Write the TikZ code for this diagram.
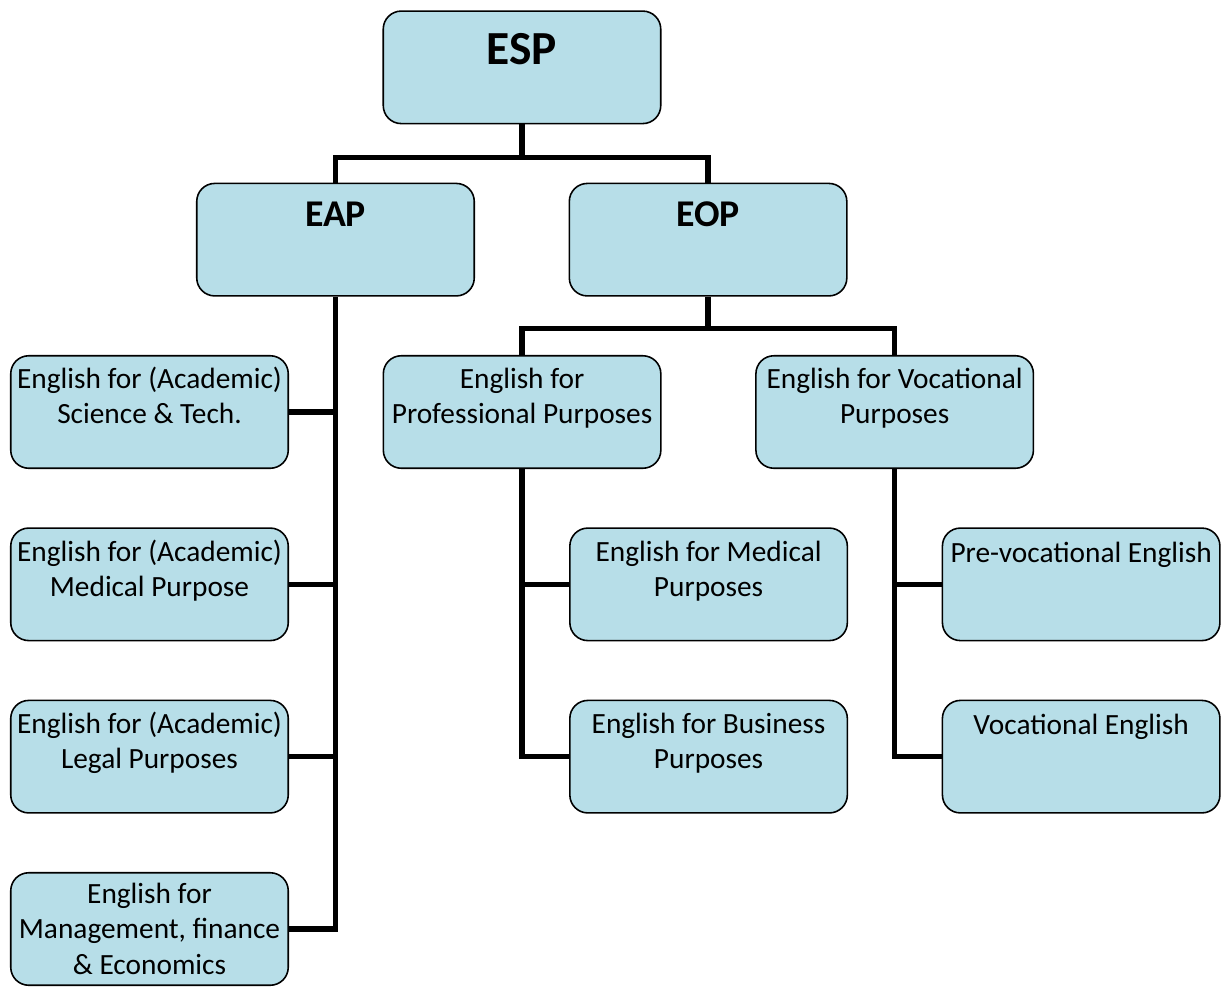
\documentclass[tikz,border=0pt]{standalone}
\usepackage{fontspec}
\setmainfont{Carlito}
\usetikzlibrary{positioning,calc}
\definecolor{boxblue}{RGB}{183,222,232}
\newcommand{\boxtext}[2]{\parbox[c][2.25cm][t]{5.5cm}{\centering\rule{0pt}{#1}#2}}
\tikzset{
    %Define style for boxes
    esbox/.style={
           rectangle,
           rounded corners=0.36cm,
           draw=black, line width=0.9pt,
           fill=boxblue,
           minimum width=5.55cm,
           minimum height=2.25cm,
           inner sep=0pt,
           font=\fontsize{16.7}{20}\selectfont,
           },
    headbox/.style={
           esbox,
           font=\bfseries\fontsize{21.5}{25}\selectfont,
           },
    topbox/.style={
           esbox,
           font=\bfseries\fontsize{27}{31}\selectfont,
           },
    % Define connector style
    link/.style={
           draw=black,
           line width=3pt,},
}
\begin{document}
\begin{tikzpicture}[node distance=1.165cm and 1.87cm]
\useasboundingbox (0,0) rectangle (24.62,-19.74);
 %nodes
\node[esbox](sci) at (2.99,-8.24){\boxtext{0.66cm}{English for (Academic)\\Science \& Tech.}};
\node[esbox, below=of sci](med){\boxtext{0.66cm}{English for (Academic)\\Medical Purpose}};
\node[esbox, below=of med](legal){\boxtext{0.66cm}{English for (Academic)\\Legal Purposes}};
\node[esbox, below=of legal](mgmt){\boxtext{0.62cm}{English for\\Management, finance\\\& Economics}};
\node[headbox, above=of sci, xshift=3.72cm](eap){\boxtext{0.86cm}{EAP}};
\node[headbox, right=of eap](eop){\boxtext{0.86cm}{EOP}};
\node[topbox, above=of eap, xshift=3.73cm](esp){\boxtext{1.06cm}{ESP}};
\node[esbox, right=of sci](prof){\boxtext{0.66cm}{English for\\Professional Purposes}};
\node[esbox, right=of prof](voc){\boxtext{0.66cm}{English for Vocational\\Purposes}};
\node[esbox, below=of prof, xshift=3.73cm](medp){\boxtext{0.66cm}{English for Medical\\Purposes}};
\node[esbox, below=of medp](bus){\boxtext{0.66cm}{English for Business\\Purposes}};
\node[esbox, below=of voc, xshift=3.73cm](prevoc){\boxtext{0.68cm}{Pre-vocational English}};
\node[esbox, below=of prevoc](voce){\boxtext{0.68cm}{Vocational English}};
 %connectors
\coordinate (espjoin) at ($(esp.south)+(0,-0.66)$);
\coordinate (eopjoin) at ($(eop.south)+(0,-0.64)$);
\draw[link] (esp.south) -- (espjoin) -| (eap.north);
\draw[link] (espjoin) -| (eop.north);
\draw[link] (eop.south) -- (eopjoin) -| (prof.north);
\draw[link] (eopjoin) -| (voc.north);
\draw[link] (eap.south) |- (mgmt.east);
\draw[link] (sci.east) -- (sci.east -| eap.south);
\draw[link] (med.east) -- (med.east -| eap.south);
\draw[link] (legal.east) -- (legal.east -| eap.south);
\draw[link] (prof.south) |- (bus.west);
\draw[link] (medp.west) -- (medp.west -| prof.south);
\draw[link] (voc.south) |- (voce.west);
\draw[link] (prevoc.west) -- (prevoc.west -| voc.south);
\end{tikzpicture}
\end{document}
